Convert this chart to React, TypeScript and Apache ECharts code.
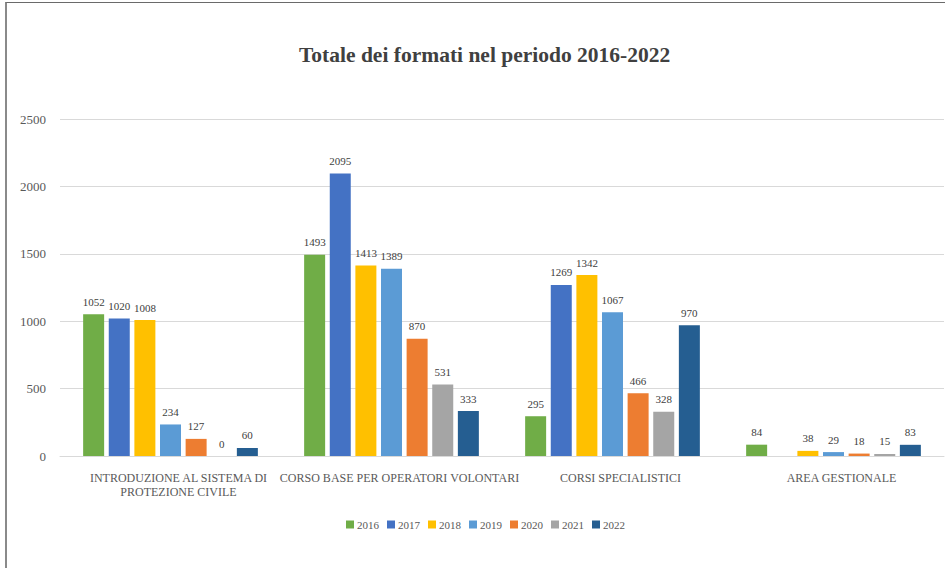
import React, { useEffect, useRef } from "react";
import * as echarts from "echarts";

const categories = [
  "INTRODUZIONE AL SISTEMA DI\nPROTEZIONE CIVILE",
  "CORSO BASE PER OPERATORI VOLONTARI",
  "CORSI SPECIALISTICI",
  "AREA GESTIONALE",
];
const years = ["2016", "2017", "2018", "2019", "2020", "2021", "2022"];
const v2016 = [1052, 1493, 295, 84];
const v2017 = [1020, 2095, 1269, null];
const v2018 = [1008, 1413, 1342, 38];
const v2019 = [234, 1389, 1067, 29];
const v2020 = [127, 870, 466, 18];
const v2021 = [0, 531, 328, 15];
const v2022 = [60, 333, 970, 83];
const seriesValues = [v2016, v2017, v2018, v2019, v2020, v2021, v2022];
const colors = ["#70ad47", "#4472c4", "#ffc000", "#5b9bd5", "#ed7d31", "#a5a5a5", "#255e91"];
const yTicks = { min: 0, max: 2500, interval: 500 };

const FONT = "'Liberation Serif', 'DejaVu Serif', serif";

export default function App() {
  const ref = useRef<HTMLDivElement>(null);
  useEffect(() => {
    if (!ref.current) return;
    const chart = echarts.init(ref.current, null, { renderer: "svg" });
    chart.setOption({
      animation: false,
      color: colors,
      textStyle: { fontFamily: FONT },
      title: {
        text: "Totale dei formati nel periodo 2016-2022",
        left: 294,
        top: 39,
        textStyle: { fontFamily: FONT, fontSize: 21.5, fontWeight: "bold", color: "#404040" },
      },
      legend: {
        bottom: 33,
        left: 341,
        itemWidth: 8,
        itemHeight: 8,
        itemGap: 8,
        icon: "rect",
        textStyle: { fontFamily: FONT, fontSize: 11, color: "#595959", padding: [0, 0, 0, -2] },
        data: years,
      },
      grid: { left: 60, right: 1, top: 119, bottom: 112, containLabel: false },
      xAxis: {
        type: "category",
        data: categories,
        axisTick: { show: false },
        axisLine: { lineStyle: { color: "#d9d9d9", width: 1 } },
        axisLabel: {
          fontFamily: FONT,
          fontSize: 12,
          color: "#595959",
          margin: 15,
          lineHeight: 14,
          interval: 0,
          padding: [0, 0, 0, 16],
        },
      },
      yAxis: {
        type: "value",
        min: yTicks.min,
        max: yTicks.max,
        interval: yTicks.interval,
        axisLine: { show: false },
        axisTick: { show: false },
        splitLine: { lineStyle: { color: "#d9d9d9", width: 1 } },
        axisLabel: {
          fontFamily: FONT,
          fontSize: 13,
          color: "#595959",
          margin: 14,
          formatter: (v: number) => String(v),
        },
      },
      series: years.map((y, i) => ({
        name: y,
        type: "bar",
        data: seriesValues[i],
        barWidth: 21,
        barGap: "22%",
        itemStyle: { color: colors[i] },
        label: {
          show: true,
          position: "top",
          distance: 7,
          fontFamily: FONT,
          fontSize: 11,
          color: "#404040",
        },
      })),
    });
    return () => chart.dispose();
  }, []);
  return (
    <div
      style={{
        position: "fixed",
        left: 0,
        top: 0,
        width: 945,
        height: 568,
        background: "#fff",
      }}
    >
      <div
        style={{
          position: "absolute",
          left: 5,
          top: 2,
          width: 945,
          height: 580,
          borderLeft: "2px solid #8a8a8a",
          borderTop: "1.5px solid #6a6a6a",
          boxSizing: "border-box",
        }}
      />
      <div ref={ref} style={{ position: "absolute", left: 0, top: 0, width: 945, height: 568 }} />
    </div>
  );
}
